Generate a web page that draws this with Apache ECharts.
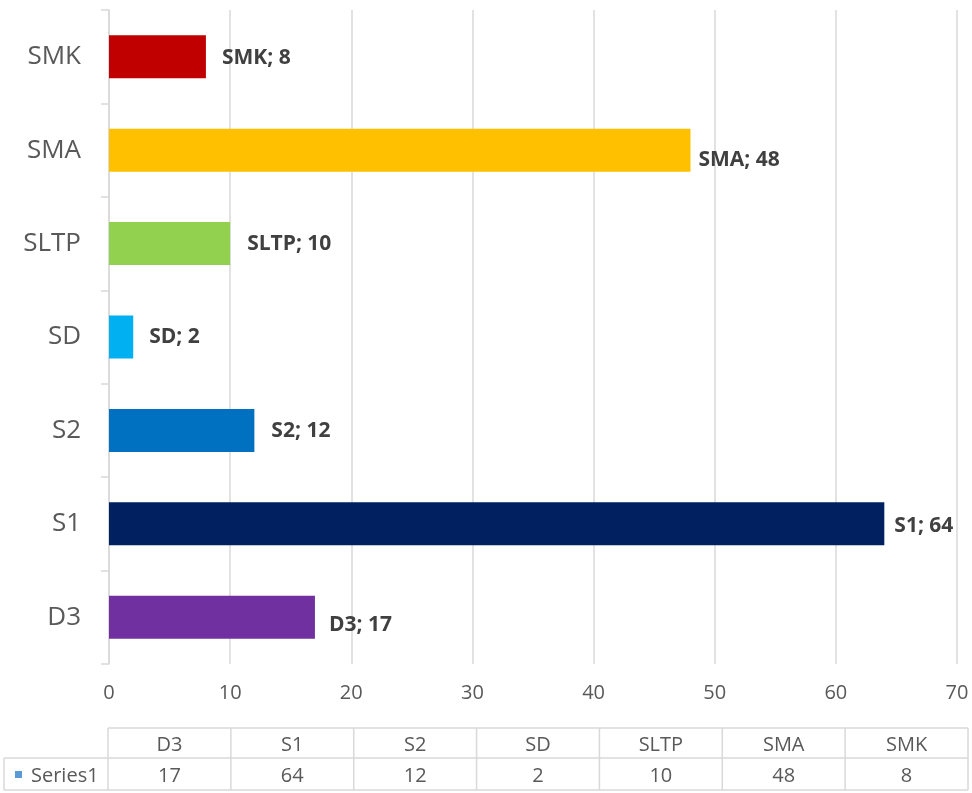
<!DOCTYPE html>
<html>
<head>
<meta charset="utf-8">
<script src="https://cdn.jsdelivr.net/npm/echarts@6/dist/echarts.min.js"></script>
<style>
  html, body { margin: 0; padding: 0; background: #fff; }
  #chart { width: 972px; height: 793px; }
</style>
</head>
<body>
<div id="chart"></div>
<script>
// Categories, bottom to top on the value chart
const categories = ['D3', 'S1', 'S2', 'SD', 'SLTP', 'SMA', 'SMK'];
const values = [17, 64, 12, 2, 10, 48, 8];
const seriesName = 'Series1';
const valueTicks = { min: 0, max: 70, interval: 10 };

// Bar fill per category
const barColors = ['#7030A0', '#002060', '#0070C0', '#00B0F0', '#92D050', '#FFC000', '#C00000'];
// Per-category nudge of the value labels [dx, dy]
const labelNudge = {
  D3: [-4, 8], S1: [-8, 2], S2: [-1, 1], SD: [-2, 0], SLTP: [-1, 0], SMA: [-10, 10], SMK: [-2, 1]
};

const FONT = '"Open Sans", "Noto Sans", sans-serif';
const GRID_COLOR = '#d9d9d9';
const TEXT_COLOR = '#595959';

const chart = echarts.init(document.getElementById('chart'), null, { renderer: 'canvas' });

chart.setOption({
  animation: false,
  backgroundColor: '#ffffff',
  grid: { left: 109, right: 15, top: 10, bottom: 129, containLabel: false },
  xAxis: {
    type: 'value',
    min: valueTicks.min,
    max: valueTicks.max,
    interval: valueTicks.interval,
    axisLine: { show: false },
    axisTick: { show: false },
    axisLabel: { color: TEXT_COLOR, fontFamily: FONT, fontSize: 20, margin: 19 },
    splitLine: { show: true, lineStyle: { color: GRID_COLOR, width: 1.5 } }
  },
  yAxis: {
    type: 'category',
    data: categories,
    axisLine: { show: true, lineStyle: { color: GRID_COLOR, width: 1.5 } },
    axisTick: { show: true, length: 8, alignWithLabel: false, lineStyle: { color: GRID_COLOR, width: 1.5 } },
    axisLabel: { color: TEXT_COLOR, fontFamily: FONT, fontSize: 26, margin: 28 },
    splitLine: { show: false }
  },
  series: [{
    name: seriesName,
    type: 'bar',
    barCategoryGap: '54%',
    data: values.map((v, i) => ({
      value: v,
      itemStyle: { color: barColors[i] },
      label: { offset: labelNudge[categories[i]] }
    })),
    label: {
      show: true,
      position: 'right',
      distance: 18,
      formatter: '{b}; {c}',
      color: '#404040',
      fontFamily: FONT,
      fontWeight: 'bold',
      fontSize: 21
    }
  }]
});

// Data table under the chart: a header row of categories and a row of values
function buildTable() {
  const x0 = chart.convertToPixel({ xAxisIndex: 0 }, valueTicks.min) - 1;
  const x1 = chart.convertToPixel({ xAxisIndex: 0 }, valueTicks.max) + 11;
  const colW = (x1 - x0) / categories.length;
  const top = 728, rowH = 30, bottom = 790, legendLeft = 4;
  const line = { stroke: GRID_COLOR, lineWidth: 1.5 };
  const els = [];
  const hline = (xa, xb, y) => els.push({ type: 'line', shape: { x1: xa, y1: y, x2: xb, y2: y }, style: line, silent: true });
  const vline = (x, ya, yb) => els.push({ type: 'line', shape: { x1: x, y1: ya, x2: x, y2: yb }, style: line, silent: true });

  hline(x0, x1, top);
  hline(legendLeft, x1, top + rowH);
  hline(legendLeft, x1, bottom);
  vline(legendLeft, top + rowH, bottom);
  for (let i = 0; i <= categories.length; i++) vline(x0 + i * colW, top, bottom);

  const cellText = (txt, cx, cy, align) => els.push({
    type: 'text', silent: true,
    style: { text: txt, x: cx, y: cy, align: align || 'center', verticalAlign: 'middle',
             fill: TEXT_COLOR, font: '20px ' + FONT }
  });
  categories.forEach((c, i) => {
    const cx = x0 + (i + 0.5) * colW;
    cellText(c, cx, top + rowH / 2 + 2);
    cellText(String(values[i]), cx, top + rowH + (bottom - top - rowH) / 2 + 2);
  });

  // Legend key for the series row
  const rowMid = top + rowH + (bottom - top - rowH) / 2;
  els.push({ type: 'rect', silent: true, shape: { x: 15, y: rowMid - 3, width: 7, height: 7 }, style: { fill: '#5B9BD5' } });
  cellText(seriesName, 31, rowMid + 2, 'left');

  chart.setOption({ graphic: els });
}
buildTable();
</script>
</body>
</html>
